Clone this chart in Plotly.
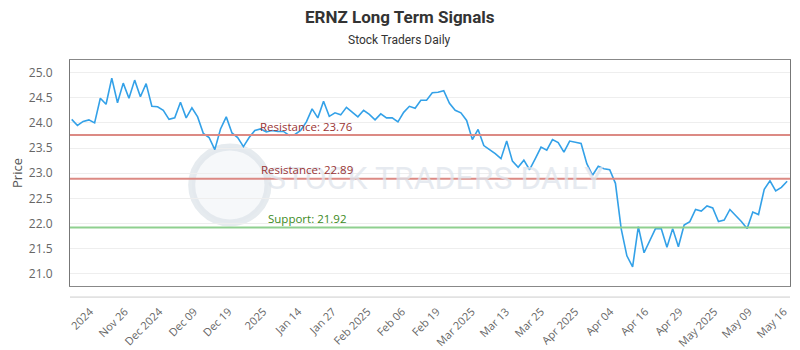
import plotly.graph_objects as go

prices = [
    24.07, 23.95, 24.03, 24.06, 24.00, 24.49, 24.37, 24.89, 24.40, 24.79,
    24.49, 24.85, 24.52, 24.78, 24.33, 24.32, 24.25, 24.07, 24.10, 24.41,
    24.10, 24.30, 24.12, 23.79, 23.71, 23.47, 23.88, 24.12, 23.80, 23.71,
    23.53, 23.71,
    23.85, 23.88, 23.82, 23.85, 23.83, 23.83, 23.75, 23.77, 23.85, 24.02,
    24.28, 24.10, 24.43, 24.13, 24.20, 24.16, 24.31, 24.21, 24.12, 24.25,
    24.17, 24.06, 24.18, 24.10, 24.10, 24.02, 24.21, 24.33, 24.29, 24.45,
    24.45,
    24.60, 24.61, 24.64, 24.39, 24.25, 24.20, 24.05, 23.67, 23.87, 23.55,
    23.47, 23.39, 23.29, 23.64, 23.24, 23.12, 23.26, 23.07, 23.29, 23.52,
    23.46, 23.67, 23.61, 23.42, 23.64, 23.61, 23.59, 23.19, 22.96, 23.14,
    23.09, 23.07,
    22.80, 21.90, 21.36, 21.14, 21.94, 21.42, 21.66, 21.90, 21.90, 21.53,
    21.90, 21.54, 21.97, 22.04, 22.28, 22.25, 22.35, 22.31, 22.04, 22.07,
    22.28, 22.17, 22.04, 21.90, 22.23, 22.18, 22.68, 22.85, 22.65, 22.72,
    22.84,
]

tick_labels = ["2024", "Nov 26", "Dec 2024", "Dec 09", "Dec 19", "2025", "Jan 14",
               "Jan 27", "Feb 2025", "Feb 06", "Feb 19", "Mar 2025", "Mar 13",
               "Mar 25", "Apr 2025", "Apr 04", "Apr 16", "Apr 29", "May 2025",
               "May 09", "May 16"]
tick_positions = [3.2, 9.3, 15.3, 21.4, 27.4, 33.5, 39.6, 45.6, 51.7, 57.7, 63.8,
                  69.9, 75.9, 82.0, 88.0, 94.1, 100.2, 106.2, 112.3, 118.3, 124.4]

level_names = ["Resistance", "Resistance", "Support"]
level_values = [23.76, 22.89, 21.92]
level_line_colors = ["#dc8a84", "#dc8a84", "#8fd08f"]
level_text_colors = ["#9a3434", "#9a3434", "#3a8a22"]
label_index = 41.1

x_idx = list(range(len(prices)))

fig = go.Figure()

# watermark
fig.add_shape(type="circle", xref="paper", yref="paper",
              x0=0.169, x1=0.275, y0=0.279, y1=0.615,
              line=dict(color="rgba(222,228,234,0.75)", width=7),
              fillcolor="rgba(238,242,246,0.55)", layer="below")
fig.add_annotation(xref="paper", yref="paper", x=0.507, y=0.478,
                   xanchor="center", yanchor="middle",
                   text="STOCK TRADERS DAILY", showarrow=False,
                   font=dict(family="Roboto", size=32,
                             color="rgba(222,228,235,0.75)"))

fig.add_trace(go.Scatter(
    x=x_idx, y=prices, mode="lines",
    line=dict(color="#33a1e8", width=1.6),
    hoverinfo="y", showlegend=False,
))

for name, val, lc, tc in zip(level_names, level_values, level_line_colors, level_text_colors):
    fig.add_hline(y=val, line=dict(color=lc, width=2))
    fig.add_annotation(x=label_index, y=val, text=f"{name}: {val:.2f}",
                       showarrow=False, xanchor="center", yanchor="middle", yshift=9,
                       font=dict(family="Open Sans", size=11.5, color=tc))

# title & subtitle
fig.add_annotation(xref="paper", yref="paper", x=0.458, y=1.19,
                   xanchor="center", yanchor="middle",
                   text="<b>ERNZ Long Term Signals</b>", showarrow=False,
                   font=dict(family="Roboto", size=17, color="#333333"))
fig.add_annotation(xref="paper", yref="paper", x=0.458, y=1.088,
                   xanchor="center", yanchor="middle",
                   text="Stock Traders Daily", showarrow=False,
                   font=dict(family="Roboto", size=12, color="#333333"))

# separate axis line below plot box
fig.add_shape(type="line", xref="paper", yref="paper", x0=0, x1=1,
              y0=-0.049, y1=-0.049, line=dict(color="#cccccc", width=1))

fig.update_layout(
    width=800, height=350,
    margin=dict(l=62, r=18, t=52, b=72),
    paper_bgcolor="white", plot_bgcolor="white",
    font=dict(family="Open Sans", color="#666666"),
)
fig.update_xaxes(
    automargin=False,
    range=[-0.3, 125.5], tickmode="array", tickvals=tick_positions, ticktext=tick_labels,
    tickangle=-45, ticks="outside", ticklen=14, tickcolor="rgba(0,0,0,0)",
    showgrid=False, zeroline=False, showline=True, mirror=True, linecolor="#888888",
    tickfont=dict(size=11, color="#666666"),
)
fig.update_yaxes(
    automargin=False,
    range=[20.76, 25.25], dtick=0.5, tickformat=".1f",
    showgrid=True, gridcolor="#eeeeee", zeroline=False,
    showline=True, mirror=True, linecolor="#777777",
    ticks="", ticklabelstandoff=14,
    tickfont=dict(size=12, color="#666666"),
    title=dict(text="Price", font=dict(size=13, color="#555555"), standoff=8),
)

fig.write_html("out.html")
